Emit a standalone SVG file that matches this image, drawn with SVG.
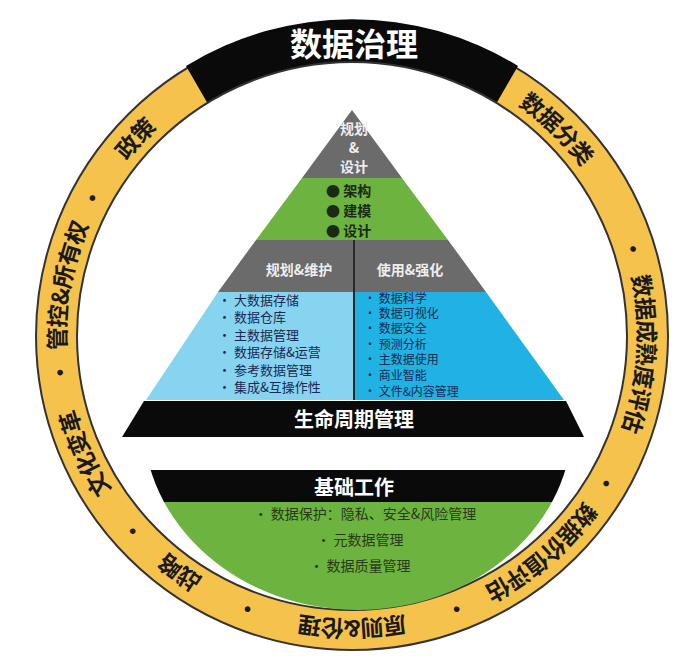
<svg xmlns="http://www.w3.org/2000/svg" width="694" height="660" viewBox="0 0 694 660">
<style>
.ring{font-family:"Noto Sans CJK SC",sans-serif;font-weight:bold;font-size:23px;fill:#1a1a1a}
.dot{font-family:"Noto Sans CJK SC",sans-serif;font-weight:bold;font-size:22px;fill:#1a1a1a}
.w{font-family:"Noto Sans CJK SC",sans-serif;font-weight:bold;fill:#fff;text-anchor:middle}
.g{font-family:"Noto Sans CJK SC",sans-serif;font-weight:bold;fill:#1b2a12}
.b{font-family:"Noto Sans CJK SC",sans-serif;font-size:13px;fill:#1a2a55}
.b2{font-family:"Noto Sans CJK SC",sans-serif;font-size:12px;fill:#1a2a55}
.bt{font-family:"Noto Sans CJK SC",sans-serif;font-size:14px;fill:#2a3a18}
</style>
<defs>
<path id="mid" d="M352,42 A296,294 0 0 1 352,630 A296,294 0 0 1 352,42 A296,294 0 0 1 352,630 A296,294 0 0 1 352,42"/>
<clipPath id="cl"><ellipse cx="358" cy="420" rx="215" ry="190"/></clipPath>
</defs>
<rect width="694" height="660" fill="#fff"/>
<g id="ring">
<ellipse cx="352" cy="336" rx="316" ry="314" fill="#f5c24c" stroke="#333" stroke-width="2"/>
<path d="M186,66 A316,314 0 0 1 518,66 L496,104 A275,274 0 0 0 208,104 Z" fill="#0a0a0a"/>
<ellipse cx="352" cy="336" rx="275" ry="274" fill="#fff" stroke="#333" stroke-width="2"/>
<text class="w" style="font-size:32px" x="354" y="56">数据治理</text>
<text class="ring" dominant-baseline="central" text-anchor="middle"><textPath href="#mid" startOffset="56.2%">数据分类</textPath></text>
<text class="dot" dominant-baseline="central" text-anchor="middle"><textPath href="#mid" startOffset="60.1%">•</textPath></text>
<text class="ring" dominant-baseline="central" text-anchor="middle"><textPath href="#mid" startOffset="63%">数据成熟度评估</textPath></text>
<text class="dot" dominant-baseline="central" text-anchor="middle"><textPath href="#mid" startOffset="66.7%">•</textPath></text>
<text class="ring" dominant-baseline="central" text-anchor="middle"><textPath href="#mid" startOffset="69.3%">数据价值评估</textPath></text>
<text class="dot" dominant-baseline="central" text-anchor="middle"><textPath href="#mid" startOffset="72.1%">•</textPath></text>
<text class="ring" dominant-baseline="central" text-anchor="middle"><textPath href="#mid" startOffset="75%">原则&amp;伦理</textPath></text>
<text class="dot" dominant-baseline="central" text-anchor="middle"><textPath href="#mid" startOffset="77.9%">•</textPath></text>
<text class="ring" dominant-baseline="central" text-anchor="middle"><textPath href="#mid" startOffset="80%">战略</textPath></text>
<text class="dot" dominant-baseline="central" text-anchor="middle"><textPath href="#mid" startOffset="81.7%">•</textPath></text>
<text class="ring" dominant-baseline="central" text-anchor="middle"><textPath href="#mid" startOffset="84.2%">文化变革</textPath></text>
<text class="dot" dominant-baseline="central" text-anchor="middle"><textPath href="#mid" startOffset="86.5%">•</textPath></text>
<text class="ring" dominant-baseline="central" text-anchor="middle"><textPath href="#mid" startOffset="88.9%">管控&amp;所有权</textPath></text>
<text class="dot" dominant-baseline="central" text-anchor="middle"><textPath href="#mid" startOffset="91.4%">•</textPath></text>
<text class="ring" dominant-baseline="central" text-anchor="middle"><textPath href="#mid" startOffset="93.4%">政策</textPath></text>
</g>
<g id="pyramid">
<polygon points="352,110 402,178 302,178" fill="#6b6b6b"/>
<polygon points="302,178 402,178 448,240 256,240" fill="#6cb33f"/>
<polygon points="256,240 448,240 486,292 218,292" fill="#6b6b6b"/>
<polygon points="218,292 354,292 354,400 146,400" fill="#86d4ef"/>
<polygon points="354,292 486,292 564,400 354,400" fill="#1fb2e2"/>
<line x1="354" y1="240" x2="354" y2="400" stroke="#2a2a2a" stroke-width="2"/>
<text class="w" style="font-size:14px;fill:#eee"><tspan x="354" y="134">规划</tspan><tspan x="354" y="153">&amp;</tspan><tspan x="354" y="172">设计</tspan></text>
<text class="g" style="font-size:14px"><tspan x="326" y="196">●  架构</tspan><tspan x="326" y="216">●  建模</tspan><tspan x="326" y="236">●  设计</tspan></text>
<text class="w" style="font-size:14px;fill:#eee" x="299" y="275">规划&amp;维护</text>
<text class="w" style="font-size:14px;fill:#eee" x="410" y="275">使用&amp;强化</text>
<text class="b"><tspan x="218" y="305">•   大数据存储</tspan><tspan x="218" y="322">•   数据仓库</tspan><tspan x="218" y="340">•   主数据管理</tspan><tspan x="218" y="357">•   数据存储&amp;运营</tspan><tspan x="218" y="375">•   参考数据管理</tspan><tspan x="218" y="392">•   集成&amp;互操作性</tspan></text>
<text class="b2"><tspan x="364" y="303">•   数据科学</tspan><tspan x="364" y="318">•   数据可视化</tspan><tspan x="364" y="333">•   数据安全</tspan><tspan x="364" y="349">•   预测分析</tspan><tspan x="364" y="364">•   主数据使用</tspan><tspan x="364" y="380">•   商业智能</tspan><tspan x="364" y="396">•   文件&amp;内容管理</tspan></text>
</g>
<g id="lifecycle">
<polygon points="144,401 566,401 584,437 122,437" fill="#0a0a0a"/>
<text class="w" style="font-size:20px" x="354" y="427">生命周期管理</text>
</g>
<g id="foundation">
<g clip-path="url(#cl)">
<rect x="100" y="470" width="520" height="32" fill="#0a0a0a"/>
<rect x="100" y="502" width="520" height="120" fill="#6cb33f"/>
</g>
<text class="w" style="font-size:20px" x="354" y="495">基础工作</text>
<text class="bt" text-anchor="middle"><tspan x="365" y="519">•   数据保护：隐私、安全&amp;风险管理</tspan><tspan x="360" y="545">•   元数据管理</tspan><tspan x="360" y="571">•   数据质量管理</tspan></text>
</g>
</svg>
